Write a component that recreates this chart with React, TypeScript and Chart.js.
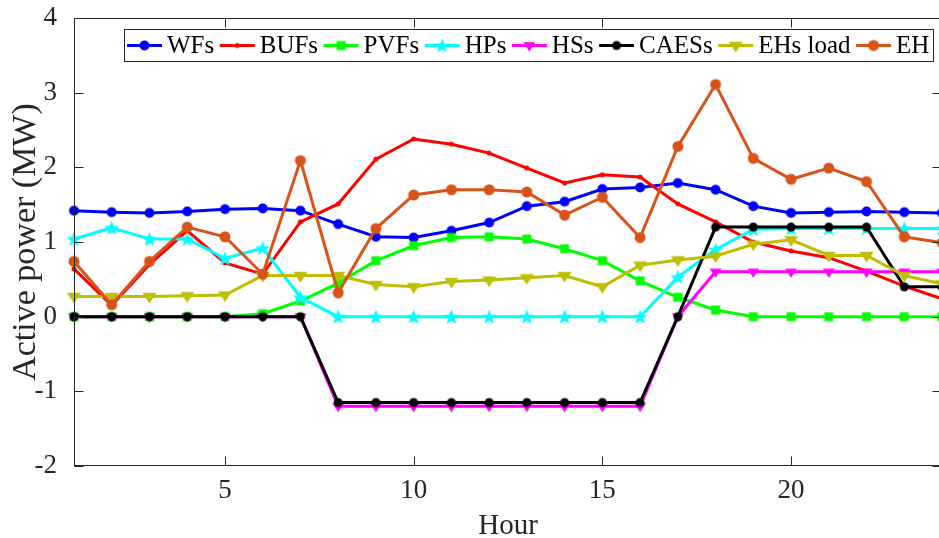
import React, { useEffect, useRef } from 'react';
import { Chart, registerables } from 'chart.js';

Chart.register(...registerables);

const hours = [1, 2, 3, 4, 5, 6, 7, 8, 9, 10, 11, 12, 13, 14, 15, 16, 17, 18, 19, 20, 21, 22, 23, 24];
const xTickValues = [5, 10, 15, 20];

const WFs = [1.42, 1.40, 1.39, 1.41, 1.44, 1.45, 1.42, 1.24, 1.07, 1.06, 1.15, 1.26, 1.48, 1.54, 1.71, 1.73, 1.79, 1.70, 1.48, 1.39, 1.40, 1.41, 1.40, 1.39];
const BUFs = [0.64, 0.15, 0.70, 1.15, 0.72, 0.57, 1.27, 1.51, 2.11, 2.38, 2.31, 2.19, 1.99, 1.79, 1.90, 1.87, 1.51, 1.27, 1.00, 0.88, 0.79, 0.61, 0.41, 0.24];
const PVFs = [0, 0, 0, 0, 0, 0.04, 0.21, 0.45, 0.75, 0.95, 1.06, 1.07, 1.04, 0.91, 0.75, 0.48, 0.26, 0.09, 0, 0, 0, 0, 0, 0];
const HPs = [1.04, 1.19, 1.04, 1.04, 0.78, 0.92, 0.26, 0, 0, 0, 0, 0, 0, 0, 0, 0, 0.53, 0.90, 1.17, 1.18, 1.18, 1.18, 1.18, 1.18];
const HSs = [0, 0, 0, 0, 0, 0, 0, -1.2, -1.2, -1.2, -1.2, -1.2, -1.2, -1.2, -1.2, -1.2, 0, 0.6, 0.6, 0.6, 0.6, 0.6, 0.6, 0.6];
const CAESs = [0, 0, 0, 0, 0, 0, 0, -1.15, -1.15, -1.15, -1.15, -1.15, -1.15, -1.15, -1.15, -1.15, 0, 1.2, 1.2, 1.2, 1.2, 1.2, 0.4, 0.4];
const EHsLoad = [0.27, 0.27, 0.27, 0.28, 0.29, 0.55, 0.55, 0.55, 0.43, 0.40, 0.47, 0.49, 0.52, 0.55, 0.40, 0.69, 0.76, 0.81, 0.97, 1.03, 0.82, 0.82, 0.55, 0.44];
const EH = [0.74, 0.16, 0.74, 1.20, 1.07, 0.57, 2.09, 0.32, 1.18, 1.63, 1.70, 1.70, 1.67, 1.36, 1.60, 1.06, 2.28, 3.11, 2.12, 1.84, 1.99, 1.81, 1.07, 0.99];

const seriesNames = ['WFs', 'BUFs', 'PVFs', 'HPs', 'HSs', 'CAESs', 'EHs load', 'EH'];
const seriesData = [WFs, BUFs, PVFs, HPs, HSs, CAESs, EHsLoad, EH];
const seriesColors = ['#0000FF', '#FF0000', '#00FF00', '#00FFFF', '#FF00FF', '#000000', '#BFBF00', '#D95319'];
const seriesShapes = ['circle', 'dot', 'square', 'star', 'tri', 'circle', 'tri', 'circle'];
const seriesMarkerSizes = [10, 5, 9, 16, 12, 9, 14, 11];

const FONT = "'Liberation Serif', 'Times New Roman', serif";
const AXIS_COLOR = '#262626';

function makeMarker(shape: string, color: string, size: number): HTMLCanvasElement {
  const c = document.createElement('canvas');
  const d = Math.ceil(size) + 3;
  c.width = d;
  c.height = d;
  const ctx = c.getContext('2d') as CanvasRenderingContext2D;
  ctx.fillStyle = color;
  ctx.strokeStyle = color;
  const cx = d / 2;
  const cy = d / 2;
  const r = size / 2;
  ctx.beginPath();
  if (shape === 'circle' || shape === 'dot') {
    ctx.arc(cx, cy, r, 0, Math.PI * 2);
  } else if (shape === 'square') {
    ctx.rect(cx - r, cy - r, 2 * r, 2 * r);
  } else if (shape === 'star') {
    const inner = r * 0.42;
    for (let i = 0; i < 10; i++) {
      const ang = -Math.PI / 2 + (i * Math.PI) / 5;
      const rr = i % 2 === 0 ? r : inner;
      const px = cx + rr * Math.cos(ang);
      const py = cy + rr * Math.sin(ang) + r * 0.08;
      if (i === 0) ctx.moveTo(px, py);
      else ctx.lineTo(px, py);
    }
    ctx.closePath();
  } else if (shape === 'tri') {
    ctx.moveTo(cx - r, cy - r * 0.55);
    ctx.lineTo(cx + r, cy - r * 0.55);
    ctx.lineTo(cx, cy + r);
    ctx.closePath();
  }
  ctx.fill();
  return c;
}

export default function App() {
  const canvasRef = useRef<HTMLCanvasElement | null>(null);

  useEffect(() => {
    document.body.style.margin = '0';
    const canvas = canvasRef.current;
    if (!canvas) return;

    const markers = seriesNames.map((_, i) => makeMarker(seriesShapes[i], seriesColors[i], seriesMarkerSizes[i]));

    const datasets = seriesNames.map((name, i) => ({
      label: name,
      data: hours.map((h, j) => ({ x: h, y: seriesData[i][j] })),
      borderColor: seriesColors[i],
      backgroundColor: seriesColors[i],
      borderWidth: 3,
      pointStyle: markers[i],
      pointRadius: 5,
      pointHoverRadius: 5,
      tension: 0,
      order: seriesNames.length - i,
      clip: 8,
    }));

    const framePlugin = {
      id: 'frame',
      afterDraw(chart: any) {
        const { ctx, chartArea: a, scales } = chart;
        ctx.save();
        ctx.strokeStyle = AXIS_COLOR;
        ctx.lineWidth = 1;
        const L = Math.round(a.left) + 0.5;
        const R = Math.round(a.right) - 0.5;
        const T = Math.round(a.top) + 0.5;
        const B = Math.round(a.bottom) - 0.5;
        ctx.strokeRect(L, T, R - L, B - T);
        const tl = 9;
        ctx.beginPath();
        scales.y.ticks.forEach((t: any) => {
          const py = Math.round(scales.y.getPixelForValue(t.value)) + 0.5;
          ctx.moveTo(L, py);
          ctx.lineTo(L + tl, py);
          ctx.moveTo(R, py);
          ctx.lineTo(R - tl, py);
        });
        scales.x.ticks.forEach((t: any) => {
          const px = Math.round(scales.x.getPixelForValue(t.value)) + 0.5;
          ctx.moveTo(px, B);
          ctx.lineTo(px, B - tl);
          ctx.moveTo(px, T);
          ctx.lineTo(px, T + tl);
        });
        ctx.stroke();

        // legend
        ctx.font = '25px ' + FONT;
        const lineLen = 35;
        const gapText = 5;
        const gapItem = 5.5;
        const widths = seriesNames.map((n) => ctx.measureText(n).width);
        let total = 3;
        widths.forEach((w: number, i: number) => {
          total += lineLen + gapText + w + (i < widths.length - 1 ? gapItem : 0);
        });
        total += 4;
        const boxRight = 933;
        const boxTop = 29;
        const boxH = 32;
        const boxLeft = boxRight - total;
        ctx.fillStyle = '#FFFFFF';
        ctx.fillRect(Math.round(boxLeft) + 0.5, boxTop + 0.5, Math.round(total), boxH);
        ctx.strokeStyle = AXIS_COLOR;
        ctx.lineWidth = 1;
        ctx.strokeRect(Math.round(boxLeft) + 0.5, boxTop + 0.5, Math.round(total), boxH);
        let x = Math.round(boxLeft) + 3;
        const cy = boxTop + boxH / 2 + 0.5;
        seriesNames.forEach((n, i) => {
          ctx.strokeStyle = seriesColors[i];
          ctx.lineWidth = 3;
          ctx.beginPath();
          ctx.moveTo(x, cy);
          ctx.lineTo(x + lineLen, cy);
          ctx.stroke();
          const m = markers[i];
          ctx.drawImage(m, x + lineLen / 2 - m.width / 2, cy - m.height / 2);
          ctx.fillStyle = '#000000';
          ctx.textBaseline = 'alphabetic';
          ctx.textAlign = 'left';
          ctx.fillText(n, x + lineLen + gapText, boxTop + 24);
          x += lineLen + gapText + widths[i] + gapItem;
        });
        ctx.restore();
      },
    };

    const chart = new Chart(canvas, {
      type: 'line',
      data: { datasets },
      options: {
        animation: false,
        responsive: false,
        devicePixelRatio: 1,
        layout: { padding: { top: 18, right: 1, left: 0, bottom: 0 } },
        plugins: {
          legend: { display: false },
          tooltip: { enabled: false },
        },
        scales: {
          x: {
            type: 'linear',
            min: 1,
            max: 24,
            grid: { display: false },
            border: { display: false },
            afterBuildTicks: (s: any) => {
              s.ticks = xTickValues.map((v) => ({ value: v }));
            },
            afterFit: (s: any) => {
              s.height = 72;
              s.paddingLeft = 0;
              s.paddingRight = 0;
            },
            ticks: {
              font: { family: FONT, size: 27 },
              color: AXIS_COLOR,
              padding: 1,
              maxRotation: 0,
            },
            title: {
              display: true,
              text: 'Hour',
              font: { family: FONT, size: 29, lineHeight: 0.8 },
              color: AXIS_COLOR,
              padding: { top: 0, bottom: 0 },
            },
          },
          y: {
            type: 'linear',
            min: -2,
            max: 4,
            grid: { display: false },
            border: { display: false },
            afterFit: (s: any) => {
              s.width = 74;
              s.paddingTop = 0;
              s.paddingBottom = 0;
            },
            ticks: {
              stepSize: 1,
              font: { family: FONT, size: 27 },
              color: AXIS_COLOR,
              padding: 9,
            },
            title: {
              display: true,
              text: 'Active power (MW)',
              font: { family: FONT, size: 34, lineHeight: 1 },
              color: AXIS_COLOR,
              padding: { top: 9, bottom: 0 },
            },
          },
        },
      },
      plugins: [framePlugin],
    });

    return () => {
      chart.destroy();
    };
  }, []);

  return (
    <div style={{ width: 939, height: 538, overflow: 'hidden', background: '#FFFFFF' }}>
      <canvas ref={canvasRef} width={950} height={538} />
    </div>
  );
}
